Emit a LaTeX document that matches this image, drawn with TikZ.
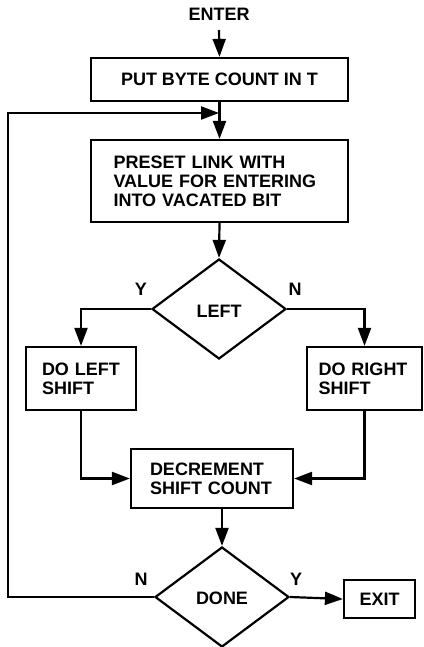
\documentclass[tikz,border=0pt]{standalone}
\usepackage{fontspec}
\setmainfont{Liberation Sans}
\usetikzlibrary{arrows.meta,shapes.geometric}
\begin{document}
\begin{tikzpicture}[x=1pt,y=-1pt,
  line width=2.2pt,
  every node/.style={font=\bfseries\fontsize{18}{19}\selectfont},
  box/.style={draw, rectangle, inner sep=0pt},
  lbl/.style={inner sep=0pt},
  arr/.style={-{Triangle[length=18pt,width=13pt]}}
]
\useasboundingbox (0,0) rectangle (423,647);
% nodes
\node[lbl] (enter) at (219,14) {ENTER};
\node[box, minimum width=257pt, minimum height=43pt] (put) at (219.5,79.5) {PUT BYTE COUNT IN T};
\node[box, minimum width=257pt, minimum height=82pt, text width=212pt, align=left] (preset) at (219.5,181) {PRESET LINK WITH\\VALUE FOR ENTERING\\INTO VACATED BIT};
\node[draw, diamond, inner sep=0pt, minimum width=134pt, minimum height=100pt] (left) at (219,309) {};
\node[lbl] at (219,311) {LEFT};
\node[box, minimum width=110pt, minimum height=63pt, text width=78pt, align=left] (dl) at (81,378.5) {DO LEFT\\SHIFT};
\node[box, minimum width=115pt, minimum height=63pt, text width=92pt, align=left] (dr) at (364.5,378.5) {DO RIGHT\\SHIFT};
\node[box, minimum width=162pt, minimum height=59pt, text width=124pt, align=left] (decr) at (212,478.5) {DECREMENT\\SHIFT COUNT};
\node[draw, diamond, inner sep=0pt, minimum width=134pt, minimum height=100pt] (done) at (222,597) {};
\node[lbl] at (222,598) {DONE};
\node[box, minimum width=71pt, minimum height=38pt] (exit) at (379.5,599) {EXIT};
\node[lbl] (ly) at (141,289) {Y};
\node[lbl] (ln) at (295,289) {N};
\node[lbl] (dn) at (141,579) {N};
\node[lbl] (dy) at (296,579) {Y};
\coordinate (lp) at (8,113);
\coordinate (lj) at (219,113);
% connectors
\draw[arr] (enter.south |- 0,30) -- (put.north);
\draw[arr] (put.south) -- (preset.north);
\draw[arr] (preset.south) -- (left.north);
\draw[arr] (left.west) -| (dl.north);
\draw[arr] (left.east) -| (dr.north);
\draw[arr] (dl.south) |- (decr.west);
\draw[arr] (dr.south) |- (decr.east);
\draw[arr] (decr.south -| done.north) -- (done.north);
\draw[arr] (done.east) -- (exit.west);
\draw[arr] (done.west) -| (lp) -- (lj);
\end{tikzpicture}
\end{document}
